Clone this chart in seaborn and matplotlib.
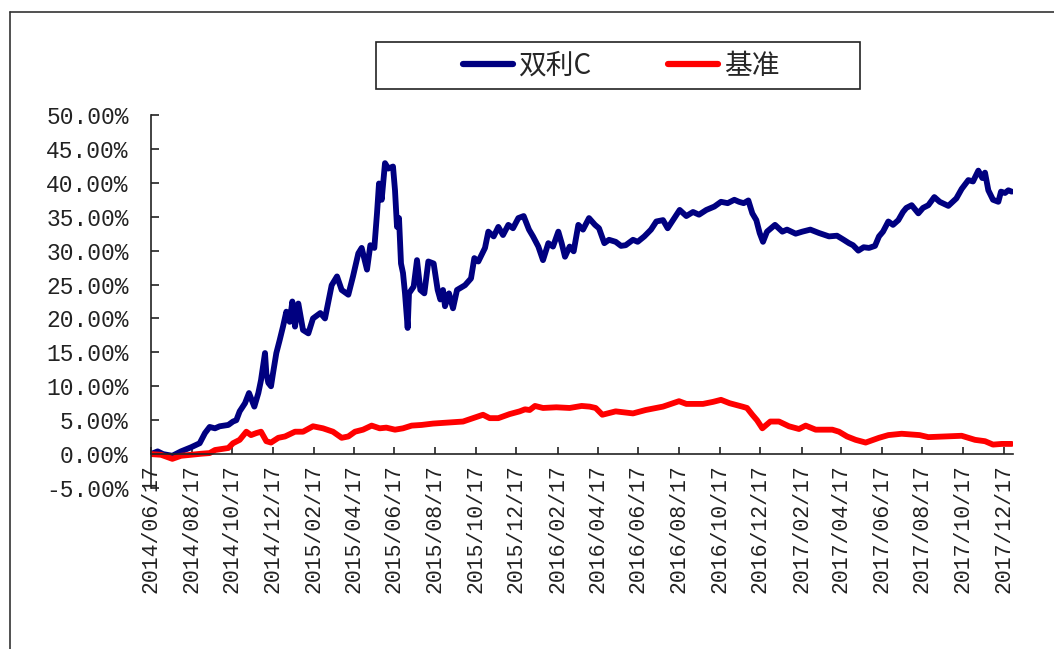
import numpy as np
import pandas as pd
import matplotlib
matplotlib.use("Agg")
import matplotlib.pyplot as plt
import matplotlib.dates as mdates
from matplotlib.lines import Line2D
from matplotlib.patches import Rectangle
import seaborn as sns

# ---------------- data ----------------
start_date = "2014-06-17"
end_date = "2017-12-31"
series_names = ["双利C", "基准"]
series_colors = ["#000080", "#FF0000"]

# days after 2014-06-17, cumulative return in %
fund_days = [0, 10, 18, 32, 45, 60, 73, 81, 88, 96, 103, 116, 123, 128, 133, 141, 147, 155,
             161, 165, 171, 173, 176, 180, 183, 188, 193, 198, 203, 208, 212, 216, 221, 228,
             236, 243, 254, 261, 271, 279, 286, 296, 303, 311, 316, 324, 329, 335, 339, 342,
             346, 351, 356, 363, 366, 369, 372, 375, 378, 381, 385, 387, 394, 399, 404, 410,
             416, 424, 430, 434, 438, 441, 447, 453, 459, 471, 480, 485, 491, 501, 506, 514,
             521, 528, 536, 543, 551, 559, 567, 573, 581, 588, 596, 603, 611, 616, 621, 628,
             634, 641, 648, 657, 666, 672, 680, 687, 697, 705, 712, 723, 730, 740, 750, 758,
             768, 775, 785, 793, 803, 813, 822, 833, 845, 855, 865, 875, 882, 889, 896, 902,
             908, 913, 918, 924, 936, 947, 954, 967, 977, 989, 1002, 1017, 1029, 1039, 1047,
             1053, 1061, 1069, 1077, 1086, 1092, 1098, 1106, 1113, 1121, 1128, 1133, 1141,
             1151, 1158, 1166, 1175, 1183, 1196, 1208, 1216, 1226, 1233, 1241, 1247, 1251,
             1256, 1263, 1271, 1275, 1281, 1286, 1291]
fund_values = [0.0, 0.4, 0.0, -0.25, 0.4, 1.0, 1.6, 3.1, 4.0, 3.8, 4.1, 4.3, 4.8, 5.0, 6.3, 7.5,
               9.0, 7.0, 9.0, 10.9, 14.9, 11.9, 10.5, 10.0, 11.9, 14.9, 16.8, 18.8, 21.0, 19.5,
               22.5, 18.8, 22.2, 18.3, 17.8, 20.0, 20.8, 20.0, 24.9, 26.2, 24.2, 23.5, 26.2,
               29.6, 30.4, 27.2, 30.8, 30.4, 35.5, 39.9, 37.5, 42.9, 42.1, 42.4, 38.9, 33.5,
               34.8, 28.1, 26.7, 23.7, 18.6, 23.7, 24.7, 28.6, 24.2, 23.7, 28.4, 28.1, 24.2,
               22.8, 24.2, 21.8, 23.7, 21.5, 24.2, 24.9, 25.9, 28.9, 28.4, 30.4, 32.8, 32.1,
               33.5, 32.3, 33.8, 33.3, 34.8, 35.1, 33.1, 32.1, 30.6, 28.6, 31.1, 30.6, 32.8,
               31.1, 29.1, 30.6, 29.9, 33.8, 33.1, 34.8, 33.8, 33.3, 31.1, 31.6, 31.3, 30.7,
               30.8, 31.6, 31.3, 32.1, 33.1, 34.3, 34.5, 33.3, 34.8, 36.0, 35.1, 35.7, 35.3,
               36.0, 36.5, 37.2, 37.0, 37.5, 37.2, 37.0, 37.4, 35.5, 34.5, 32.6, 31.3, 32.8,
               33.8, 32.8, 33.1, 32.5, 32.8, 33.1, 32.6, 32.1, 32.2, 31.6, 31.1, 30.8, 30.0,
               30.5, 30.4, 30.7, 32.1, 32.8, 34.3, 33.8, 34.5, 35.7, 36.3, 36.7, 35.5, 36.3,
               36.7, 37.9, 37.2, 36.6, 37.7, 39.1, 40.4, 40.2, 41.8, 40.7, 41.5, 38.9, 37.5,
               37.2, 38.7, 38.5, 38.9, 38.7]

bench_days = [0, 15, 32, 45, 60, 75, 88, 96, 116, 123, 133, 143, 150, 158, 165, 173, 180, 191,
              201, 216, 228, 243, 258, 273, 286, 296, 306, 318, 331, 343, 353, 366, 378, 391,
              406, 423, 438, 453, 468, 483, 498, 508, 521, 538, 553, 561, 568, 576, 588, 608,
              628, 646, 658, 667, 677, 697, 723, 742, 768, 792, 803, 828, 843, 855, 868, 887,
              894, 902, 909, 917, 929, 942, 957, 972, 982, 997, 1022, 1032, 1044, 1057, 1072,
              1092, 1106, 1126, 1153, 1166, 1191, 1216, 1236, 1251, 1263, 1276, 1291]
bench_values = [0.0, -0.1, -0.7, -0.25, -0.1, 0.05, 0.15, 0.6, 0.9, 1.6, 2.1, 3.3, 2.8, 3.1,
                3.3, 1.9, 1.7, 2.4, 2.6, 3.3, 3.3, 4.1, 3.8, 3.3, 2.4, 2.6, 3.3, 3.6, 4.2, 3.8,
                3.9, 3.6, 3.8, 4.2, 4.3, 4.5, 4.6, 4.7, 4.8, 5.3, 5.8, 5.3, 5.3, 5.9, 6.3, 6.6,
                6.5, 7.1, 6.8, 6.9, 6.8, 7.1, 7.0, 6.8, 5.8, 6.3, 6.0, 6.5, 7.0, 7.8, 7.4, 7.4,
                7.7, 8.0, 7.5, 7.0, 6.8, 5.8, 5.0, 3.8, 4.8, 4.8, 4.1, 3.7, 4.2, 3.6, 3.6, 3.3,
                2.6, 2.1, 1.7, 2.4, 2.8, 3.0, 2.8, 2.5, 2.6, 2.7, 2.1, 1.9, 1.4, 1.5, 1.5]

y_ticks = [-5, 0, 5, 10, 15, 20, 25, 30, 35, 40, 45, 50]

# ---------------- build frame ----------------
t0 = pd.Timestamp(start_date)
frames = []
for name, days, vals in [(series_names[0], fund_days, fund_values),
                         (series_names[1], bench_days, bench_values)]:
    frames.append(pd.DataFrame({
        "date": t0 + pd.to_timedelta(days, unit="D"),
        "value": vals,
        "series": name,
    }))
df = pd.concat(frames, ignore_index=True)

# ---------------- style ----------------
sns.set_theme(style="white")
plt.rcParams["font.family"] = ["Liberation Mono", "Noto Sans CJK SC", "DejaVu Sans"]
plt.rcParams["axes.edgecolor"] = "#222222"

W, H = 1054, 649
fig = plt.figure(figsize=(W / 100, H / 100), dpi=100)
fig.patch.set_facecolor("white")
ax = fig.add_axes([151 / W, 1 - 488 / H, 862 / W, 373 / H])

sns.lineplot(data=df, x="date", y="value", hue="series", hue_order=series_names,
             palette=series_colors, linewidth=4.2, estimator=None, sort=False,
             legend=False, ax=ax)

ax.set_xlim(t0, pd.Timestamp(end_date))
ax.set_ylim(-5, 50)
ax.set_yticks(y_ticks)
ax.set_yticklabels([f"{v:.2f}%" for v in y_ticks])
ax.xaxis.set_major_locator(mdates.MonthLocator(bymonth=[2, 4, 6, 8, 10, 12], bymonthday=17))
ax.xaxis.set_major_formatter(mdates.DateFormatter("%Y/%m/%d"))
ax.set_xlabel("")
ax.set_ylabel("")

for s in ["top", "right"]:
    ax.spines[s].set_visible(False)
ax.spines["bottom"].set_position(("data", 0))
ax.spines["left"].set_linewidth(1.2)
ax.spines["bottom"].set_linewidth(1.2)
ax.spines["left"].set_color("#222222")
ax.spines["bottom"].set_color("#222222")

ax.tick_params(axis="x", direction="in", length=5, width=1.2, pad=7,
               labelrotation=90, labelsize=15.5, labelcolor="#222222", color="#222222",
               bottom=True)
ax.tick_params(axis="y", direction="in", length=6, width=1.2, pad=16,
               labelsize=16.5, labelcolor="#222222", color="#222222", left=True)
ax.grid(False)

# legend with rectangular box
handles = [Line2D([0], [0], color=c, lw=4.5) for c in series_colors]
fig.legend(handles, series_names, loc="center", bbox_to_anchor=(621 / W, 1 - 66 / H),
           ncol=2, frameon=False, handlelength=1.8, handletextpad=0.2, columnspacing=2.75,
           prop={"family": ["Noto Sans CJK SC"], "size": 20})
fig.add_artist(Rectangle((376 / W, 1 - 89 / H), 484 / W, 47 / H, transform=fig.transFigure,
                         fill=False, edgecolor="#222222", lw=1.2))

# outer frame (top and left edges visible)
fig.add_artist(Line2D([10 / W, 1.0], [1 - 12 / H, 1 - 12 / H], transform=fig.transFigure,
                      color="#333333", lw=1.2))
fig.add_artist(Line2D([10 / W, 10 / W], [0.0, 1 - 12 / H], transform=fig.transFigure,
                      color="#333333", lw=1.2))

fig.savefig("out.png", dpi=100, facecolor="white")
